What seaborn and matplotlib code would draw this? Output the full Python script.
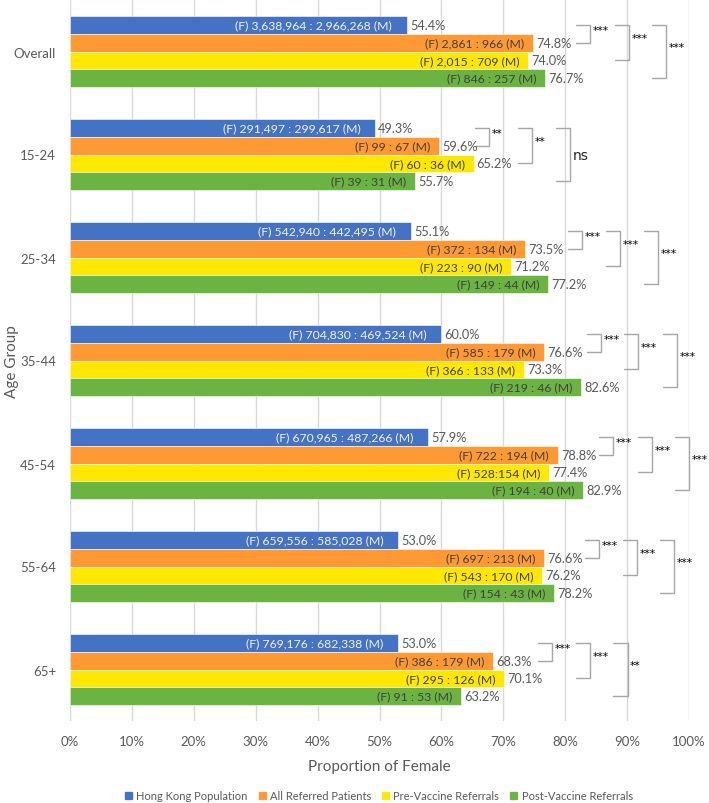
import pandas as pd
import matplotlib
matplotlib.use('Agg')
import matplotlib.pyplot as plt
import seaborn as sns

# ---- data ----
groups = ['Overall', '15-24', '25-34', '35-44', '45-54', '55-64', '65+']
series = ['Hong Kong Population', 'All Referred Patients',
          'Pre-Vaccine Referrals', 'Post-Vaccine Referrals']

pct_hk = [54.4, 49.3, 55.1, 60.0, 57.9, 53.0, 53.0]
pct_all = [74.8, 59.6, 73.5, 76.6, 78.8, 76.6, 68.3]
pct_pre = [74.0, 65.2, 71.2, 73.3, 77.4, 76.2, 70.1]
pct_post = [76.7, 55.7, 77.2, 82.6, 82.9, 78.2, 63.2]

lab_hk = ['(F) 3,638,964 : 2,966,268 (M)', '(F) 291,497 : 299,617 (M)',
          '(F) 542,940 : 442,495 (M)', '(F) 704,830 : 469,524 (M)',
          '(F) 670,965 : 487,266 (M)', '(F) 659,556 : 585,028 (M)',
          '(F) 769,176 : 682,338 (M)']
lab_all = ['(F) 2,861 : 966 (M)', '(F) 99 : 67 (M)', '(F) 372 : 134 (M)',
           '(F) 585 : 179 (M)', '(F) 722 : 194 (M)', '(F) 697 : 213 (M)',
           '(F) 386 : 179 (M)']
lab_pre = ['(F) 2,015 : 709 (M)', '(F) 60 : 36 (M)', '(F) 223 : 90 (M)',
           '(F) 366 : 133 (M)', '(F) 528:154 (M)', '(F) 543 : 170 (M)',
           '(F) 295 : 126 (M)']
lab_post = ['(F) 846 : 257 (M)', '(F) 39 : 31 (M)', '(F) 149 : 44 (M)',
            '(F) 219 : 46 (M)', '(F) 194 : 40 (M)', '(F) 154 : 43 (M)',
            '(F) 91 : 53 (M)']

# significance brackets: HK population vs each referral group
sig_x = [[84.0, 90.3, 96.3],
         [67.7, 74.6, 80.8],
         [82.7, 88.9, 95.0],
         [85.8, 91.8, 98.1],
         [87.7, 94.0, 100.0],
         [85.5, 91.6, 97.6],
         [77.9, 84.0, 90.1]]
sig_txt = [['***', '***', '***'],
           ['**', '**', 'ns'],
           ['***', '***', '***'],
           ['***', '***', '***'],
           ['***', '***', '***'],
           ['***', '***', '***'],
           ['***', '***', '**']]

colors = ['#4472C4', '#FF9933', '#FFE800', '#6BB441']
inner_col = ['#F2F2F2', '#404040', '#404040', '#404040']
inner_pad = [2.4, 1.4, 1.4, 1.4]
grey = '#595959'

all_pct = [pct_hk, pct_all, pct_pre, pct_post]
all_lab = [lab_hk, lab_all, lab_pre, lab_post]
rows = []
for s, p in zip(series, all_pct):
    for g, v in zip(groups, p):
        rows.append({'group': g, 'series': s, 'pct': v})
df = pd.DataFrame(rows)

sns.set_style('white')
plt.rcParams['font.family'] = ['Lato', 'DejaVu Sans']

fig = plt.figure(figsize=(7.09, 8.04), dpi=100)
ax = fig.add_axes([70 / 709, 1 - 722 / 804, 619 / 709, 721 / 804])

sns.barplot(data=df, y='group', x='pct', hue='series', orient='h',
            palette=colors, width=0.69, saturation=1, ax=ax,
            edgecolor='white', linewidth=0.4)

# bar labels
for j, cont in enumerate(ax.containers):
    for i, bar in enumerate(cont):
        w = bar.get_width()
        yc = bar.get_y() + bar.get_height() / 2
        ax.text(w - inner_pad[j], yc, all_lab[j][i], ha='right', va='center',
                fontsize=8.8, color=inner_col[j])
        ax.text(w + 0.5, yc, f'{all_pct[j][i]:.1f}%', ha='left', va='center',
                fontsize=9.2, color=grey)

# brackets
arm = 2.3
for i in range(len(groups)):
    b0 = ax.containers[0][i]
    y0 = b0.get_y() + b0.get_height() / 2
    for k in range(3):
        bk = ax.containers[k + 1][i]
        y1 = bk.get_y() + bk.get_height() / 2
        x = sig_x[i][k]
        ax.plot([x - arm, x, x, x - arm], [y0, y0, y1, y1],
                color='#A6A6A6', lw=1, clip_on=False)
        t = sig_txt[i][k]
        if t == 'ns':
            ax.text(x + 0.5, (y0 + y1) / 2, t, ha='left', va='center',
                    fontsize=10, color='#262626', family='DejaVu Sans')
        else:
            ax.text(x + 0.4, (y0 + y1) / 2 - 0.04, t, ha='left', va='center',
                    fontsize=7.8, color='black', family='DejaVu Sans')

ax.set_ylim(len(groups) - 0.5, -0.5)
ax.set_xlim(0, 100)
ax.set_xticks(range(0, 101, 10))
ax.set_xticklabels([f'{v}%' for v in range(0, 101, 10)])
ax.tick_params(axis='both', length=0, labelsize=9.5, colors=grey)
ax.tick_params(axis='x', pad=10)
ax.tick_params(axis='y', pad=10)
ax.xaxis.grid(True, color='#D9D9D9', lw=1)
ax.set_axisbelow(True)
for s in ax.spines.values():
    s.set_visible(False)
ax.set_xlabel('Proportion of Female', fontsize=11, color=grey, labelpad=9)
ax.set_ylabel('Age Group', fontsize=11, color=grey)
ax.yaxis.set_label_coords(-0.083, 0.5)

ax.get_legend().remove()
handles = [plt.Rectangle((0, 0), 1, 1, color=c) for c in colors]
fig.legend(handles, series, loc='center', bbox_to_anchor=(379 / 709, 1 - 797 / 804),
           ncol=4, frameon=False, fontsize=8, handlelength=0.6, handleheight=0.6,
           handletextpad=0.4, columnspacing=1.0, labelcolor=grey)

fig.savefig('out.png', dpi=100)
